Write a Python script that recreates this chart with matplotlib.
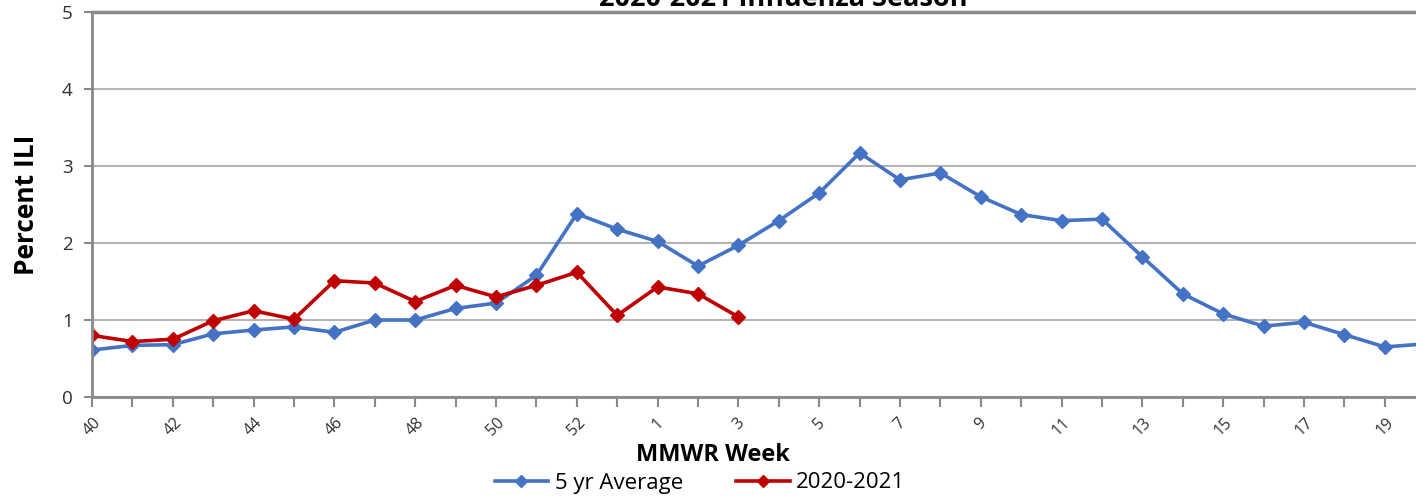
import numpy as np
import matplotlib.pyplot as plt

weeks = [str(w) for w in range(40, 54)] + [str(w) for w in range(1, 21)]
avg_5yr = [0.61, 0.67, 0.68, 0.82, 0.87, 0.91, 0.84, 1.00, 1.00, 1.15, 1.22, 1.58, 2.38, 2.18,
           2.02, 1.70, 1.97, 2.29, 2.65, 3.17, 2.82, 2.91, 2.60, 2.37, 2.29, 2.31, 1.82, 1.34,
           1.08, 0.92, 0.97, 0.81, 0.65, 0.69]
season_2021 = [0.80, 0.72, 0.75, 0.99, 1.12, 1.01, 1.51, 1.48, 1.24, 1.45, 1.30, 1.45, 1.62, 1.06,
               1.43, 1.34, 1.04]

plt.rcParams['font.family'] = ['Open Sans', 'DejaVu Sans']

fig = plt.figure(figsize=(14.16, 5.01), dpi=100)
ax = fig.add_axes([92/1416, 1 - 397/501, 1 - 92/1416, (397 - 12)/501])

x = np.arange(len(weeks))
ax.plot(x, avg_5yr, color='#4472C4', lw=2.6, marker='D', ms=7, label='5 yr Average')
ax.plot(x[:len(season_2021)], season_2021, color='#C00000', lw=2.6, marker='D', ms=7,
        label='2020-2021')

ax.set_yticks(range(6))
ax.set_xticks(x)
ax.set_xticklabels([w if i % 2 == 0 else '' for i, w in enumerate(weeks)], rotation=45,
                   fontsize=11.5, color='#303030')
# set_xticks widens the view, so the limits go after it
ax.set_ylim(0, 5)
ax.set_xlim(0, (1416 - 92) / 40.4)
ax.tick_params(axis='y', labelsize=13.5, colors='#303030', length=6, color='#898989', width=1.5, pad=8)
ax.tick_params(axis='x', length=7, color='#898989', width=1.5, pad=6)
ax.grid(axis='y', color='#b3b3b3', lw=1.5)
ax.set_axisbelow(True)
for s in ['top', 'right']:
    ax.spines[s].set_visible(False)
for s in ['left', 'bottom']:
    ax.spines[s].set_color('#898989')
    ax.spines[s].set_linewidth(2)
ax.axhline(5, color='#898989', lw=2.5, clip_on=False)

ax.set_ylabel('Percent ILI', fontsize=19, fontweight='bold', labelpad=16)
fig.text(713/1416, 1 - 455/501, 'MMWR Week', fontsize=17, fontweight='bold', ha='center', va='center')
fig.text(783/1416, 1 - 6/501, '2020-2021 Influenza Season', fontsize=19.5, fontweight='bold',
         ha='center', va='baseline')
ax.legend(loc='center', bbox_to_anchor=(700/1416, 1 - 483/501), bbox_transform=fig.transFigure,
          ncol=2, frameon=False, fontsize=16, handlelength=2.4, columnspacing=2.4,
          handletextpad=0.3, markerscale=0.85)

fig.savefig('out.png', dpi=100)
